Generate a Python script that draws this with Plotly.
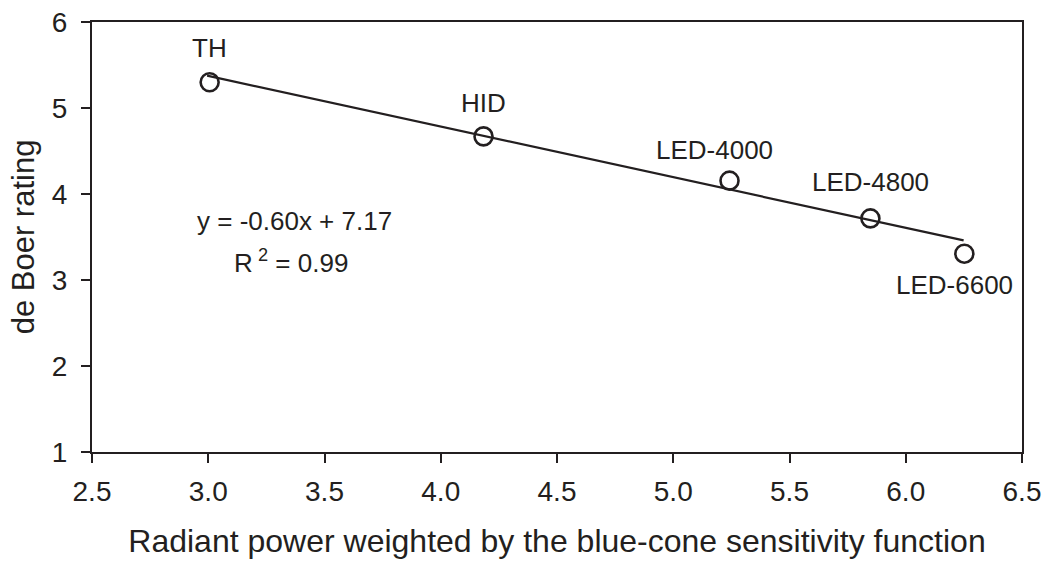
import plotly.graph_objects as go

# Data
labels = ["TH", "HID", "LED-4000", "LED-4800", "LED-6600"]
x_vals = [3.006, 4.184, 5.242, 5.848, 6.252]
y_vals = [5.30, 4.67, 4.155, 3.716, 3.306]

# Trend line endpoints
trend_x = [2.995, 6.249]
trend_y = [5.376, 3.46]

# Label offsets in px (xshift, yshift)
label_offsets = [(0, 34), (0, 33), (-15, 31), (0, 36), (-10, -31)]

ink = "#231f20"
font_family = "Liberation Sans, Arial, Helvetica, sans-serif"

fig = go.Figure()
fig.add_trace(go.Scatter(
    x=trend_x, y=trend_y, mode="lines",
    line=dict(color=ink, width=2.2), showlegend=False, hoverinfo="skip"))
fig.add_trace(go.Scatter(
    x=x_vals, y=y_vals, mode="markers",
    marker=dict(symbol="circle-open", size=18, color=ink, line=dict(color=ink, width=2.6)),
    showlegend=False))

for lab, xv, yv, (dx, dy) in zip(labels, x_vals, y_vals, label_offsets):
    fig.add_annotation(x=xv, y=yv, text=lab, showarrow=False,
                       xshift=dx, yshift=dy, font=dict(size=26, color=ink, family=font_family))

fig.add_annotation(x=3.37, y=3.69, text="y = -0.60x + 7.17", showarrow=False,
                   font=dict(size=26, color=ink, family=font_family))
fig.add_annotation(x=3.354, y=3.21, text="R\u2009<sup>2</sup> = 0.99", showarrow=False,
                   font=dict(size=26, color=ink, family=font_family))

axis_common = dict(
    showline=True, linecolor=ink, linewidth=2.2, mirror=True,
    ticks="outside", ticklen=9, tickwidth=2, tickcolor=ink,
    showgrid=False, zeroline=False, automargin=False,
    tickfont=dict(size=28, color=ink, family=font_family),
)

fig.update_layout(
    width=1050, height=562,
    margin=dict(l=92, r=28, t=22, b=110),
    paper_bgcolor="white", plot_bgcolor="white",
    xaxis=dict(range=[2.5, 6.5], tickvals=[2.5, 3.0, 3.5, 4.0, 4.5, 5.0, 5.5, 6.0, 6.5],
               ticktext=["2.5", "3.0", "3.5", "4.0", "4.5", "5.0", "5.5", "6.0", "6.5"],
               ticklabelstandoff=4,
               title=dict(text="Radiant power weighted by the blue-cone sensitivity function",
                          font=dict(size=32, color=ink, family=font_family), standoff=24),
               **axis_common),
    yaxis=dict(range=[1, 6], tickvals=[1, 2, 3, 4, 5, 6],
               ticklabelstandoff=8,
               title=dict(text="de Boer rating",
                          font=dict(size=31, color=ink, family=font_family), standoff=8),
               **axis_common),
)

fig.write_html("out.html")
